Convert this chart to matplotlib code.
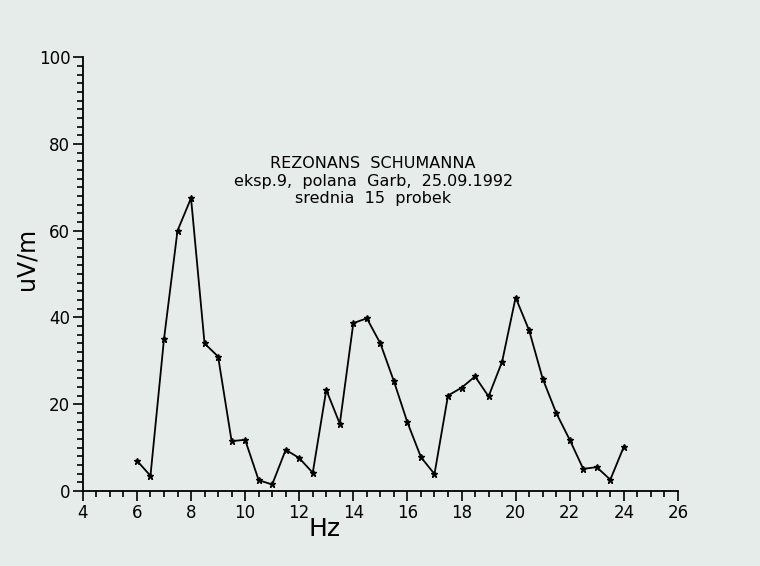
import numpy as np
import matplotlib.pyplot as plt
from matplotlib.ticker import MultipleLocator

# Czestotliwosc (Hz) i amplituda (uV/m)
hz = [6, 6.5, 7, 7.5, 8, 8.5, 9, 9.5, 10, 10.5, 11, 11.5, 12, 12.5, 13, 13.5,
      14, 14.5, 15, 15.5, 16, 16.5, 17, 17.5, 18, 18.5, 19, 19.5, 20, 20.5,
      21, 21.5, 22, 22.5, 23, 23.5, 24]
uvm = [7, 3.5, 35, 60, 67.5, 34, 31, 11.5, 11.8, 2.5, 1.5, 9.5, 7.6, 4.2,
       23.3, 15.5, 38.7, 39.8, 34, 25.3, 15.8, 7.8, 3.9, 22, 23.8, 26.4, 21.8,
       29.8, 44.6, 37, 25.9, 18, 11.8, 5.1, 5.5, 2.6, 10.2]

bg = '#e5ecea'
fig = plt.figure(figsize=(7.6, 5.66), dpi=100, facecolor=bg)
ax = fig.add_axes([0.109, 0.1325, 0.783, 0.7665], facecolor=bg)

ax.plot(hz, uvm, color='black', lw=1.3, marker='*', ms=4.5)

ax.set_xlim(4, 26)
ax.set_ylim(0, 100)
ax.xaxis.set_major_locator(MultipleLocator(2))
ax.xaxis.set_minor_locator(MultipleLocator(0.5))
ax.yaxis.set_major_locator(MultipleLocator(20))
ax.yaxis.set_minor_locator(MultipleLocator(2))
ax.tick_params(which='major', length=7, width=1.2, labelsize=12, pad=2)
ax.tick_params(which='minor', length=4, width=1.2)

for s in ['top', 'right']:
    ax.spines[s].set_visible(False)
for s in ['left', 'bottom']:
    ax.spines[s].set_linewidth(1.3)

# etykiety osi (Hz przesuniete w lewo jak w oryginale)
ax.set_xlabel('Hz', fontsize=18)
ax.xaxis.set_label_coords(0.407, -0.06)
ax.set_ylabel('uV/m', fontsize=17)
ax.yaxis.set_label_coords(-0.075, 0.535)

fig.text(0.491, 0.68, 'REZONANS  SCHUMANNA\neksp.9,  polana  Garb,  25.09.1992\nsrednia  15  probek',
         ha='center', va='center', fontsize=11.5, linespacing=1.2, multialignment='center')

fig.savefig('out.png', dpi=100, facecolor=bg)
